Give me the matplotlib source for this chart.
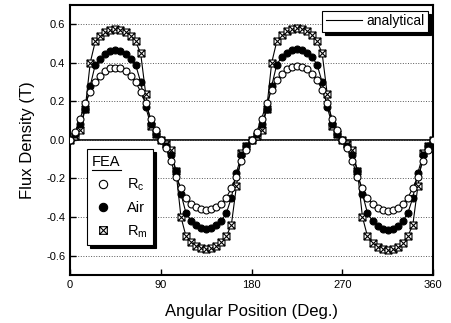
import numpy as np
import matplotlib
matplotlib.use("Agg")
import matplotlib.pyplot as plt
from matplotlib.lines import Line2D
from matplotlib.path import Path

plt.rcParams['font.family'] = ['Liberation Sans', 'DejaVu Sans']
plt.rcParams['mathtext.fontset'] = 'custom'
plt.rcParams['mathtext.rm'] = 'Liberation Sans'

# angular position (deg), sampled every 5 degrees
angle = np.arange(0, 361, 5)

# FEA, Rc case
b_rc = [0.00, 0.04, 0.11, 0.19, 0.25, 0.30, 0.33, 0.355, 0.37, 0.375, 0.37, 0.355, 0.33, 0.30, 0.25, 0.19, 0.11, 0.05, 0.00,
        -0.04, -0.11, -0.19, -0.25, -0.30, -0.33, -0.35, -0.36, -0.365, -0.36, -0.35, -0.33, -0.30, -0.25, -0.19, -0.11, -0.05, 0.00,
        0.04, 0.11, 0.19, 0.26, 0.31, 0.34, 0.365, 0.38, 0.385, 0.38, 0.365, 0.34, 0.31, 0.26, 0.19, 0.11, 0.05, 0.00,
        -0.04, -0.11, -0.19, -0.25, -0.30, -0.33, -0.355, -0.365, -0.37, -0.365, -0.355, -0.33, -0.30, -0.25, -0.19, -0.11, -0.05, 0.00]

# FEA, air case
b_air = [0.00, 0.03, 0.08, 0.16, 0.28, 0.39, 0.42, 0.445, 0.46, 0.465, 0.46, 0.445, 0.42, 0.39, 0.30, 0.17, 0.08, 0.03, 0.00,
         -0.03, -0.08, -0.16, -0.28, -0.38, -0.42, -0.44, -0.455, -0.46, -0.455, -0.44, -0.42, -0.38, -0.30, -0.17, -0.08, -0.03, 0.00,
         0.03, 0.08, 0.16, 0.28, 0.39, 0.43, 0.45, 0.465, 0.47, 0.465, 0.45, 0.43, 0.39, 0.30, 0.17, 0.08, 0.03, 0.00,
         -0.03, -0.08, -0.16, -0.28, -0.38, -0.42, -0.445, -0.46, -0.465, -0.46, -0.445, -0.42, -0.38, -0.30, -0.17, -0.08, -0.03, 0.00]

# FEA, Rm case
b_rm = [0.00, 0.02, 0.05, 0.16, 0.40, 0.51, 0.54, 0.56, 0.57, 0.575, 0.57, 0.56, 0.54, 0.51, 0.45, 0.24, 0.07, 0.03, 0.00,
        -0.02, -0.05, -0.16, -0.40, -0.50, -0.53, -0.55, -0.56, -0.565, -0.56, -0.55, -0.53, -0.50, -0.44, -0.24, -0.07, -0.03, 0.00,
        0.02, 0.05, 0.16, 0.40, 0.51, 0.545, 0.565, 0.575, 0.58, 0.575, 0.565, 0.545, 0.51, 0.45, 0.24, 0.07, 0.03, 0.00,
        -0.02, -0.05, -0.16, -0.40, -0.50, -0.535, -0.555, -0.565, -0.57, -0.565, -0.555, -0.535, -0.50, -0.44, -0.24, -0.07, -0.03, 0.00]

x_ticks = [0, 90, 180, 270, 360]
y_ticks = [-0.6, -0.4, -0.2, 0.0, 0.2, 0.4, 0.6]

# square with a cross inside
crossed_sq = Path([(-1, -1), (1, -1), (1, 1), (-1, 1), (-1, -1), (-1, -1), (1, 1), (-1, 1), (1, -1)],
                  [Path.MOVETO, Path.LINETO, Path.LINETO, Path.LINETO, Path.CLOSEPOLY,
                   Path.MOVETO, Path.LINETO, Path.MOVETO, Path.LINETO])

fig = plt.figure(figsize=(4.52, 3.23), dpi=100)
ax = fig.add_axes([0.155, 0.149, 0.803, 0.836])

ax.yaxis.grid(True, ls=':', color='0.35', lw=0.7)
ax.axhline(0, color='k', lw=1.2, zorder=1.5)

# analytical curves
for b in (b_rm, b_air, b_rc):
    ax.plot(angle, b, color='k', lw=0.8, zorder=2)

ax.plot(angle, b_rm, ls='none', marker=crossed_sq, ms=5, mfc='white', mec='k', mew=0.8, zorder=3)
ax.plot(angle, b_air, ls='none', marker='o', ms=5, mfc='k', mec='k', mew=0.8, zorder=4)
ax.plot(angle, b_rc, ls='none', marker='o', ms=5, mfc='white', mec='k', mew=0.8, zorder=5)

ax.set_xlim(0, 360)
ax.set_ylim(-0.7, 0.7)
ax.set_xticks(x_ticks)
ax.set_yticks(y_ticks)
ax.set_yticklabels(['%.1f' % v for v in y_ticks])
ax.tick_params(direction='in', length=4, width=1, labelsize=8)
for s in ax.spines.values():
    s.set_linewidth(1.5)

ax.set_xlabel('Angular Position (Deg.)', fontsize=12, labelpad=10)
ax.set_ylabel('Flux Density (T)', fontsize=12, labelpad=8)

shadow = {'color': 'k', 'alpha': 1}

leg1 = ax.legend([Line2D([], [], color='k', lw=0.8)], ['analytical'], loc='upper right',
                 bbox_to_anchor=(0.986, 0.978), borderaxespad=0, fancybox=False, edgecolor='k',
                 framealpha=1, shadow=shadow, fontsize=10, handlelength=2.6, handletextpad=0.3,
                 borderpad=0.25)
leg1.get_frame().set_linewidth(0.8)
ax.add_artist(leg1)

fea_handles = [
    Line2D([], [], ls='none', marker='o', ms=6, mfc='white', mec='k', mew=0.8),
    Line2D([], [], ls='none', marker='o', ms=6, mfc='k', mec='k', mew=0.8),
    Line2D([], [], ls='none', marker=crossed_sq, ms=5.5, mfc='white', mec='k', mew=0.8),
]
fea_labels = [r'R$_{\mathrm{c}}$', 'Air', r'R$_{\mathrm{m}}$']
leg2 = ax.legend(fea_handles, fea_labels, title='FEA', loc='lower left', bbox_to_anchor=(0.047, 0.11),
                 borderaxespad=0, fancybox=False, edgecolor='k', framealpha=1, shadow=shadow,
                 fontsize=10.5, title_fontsize=10.5, alignment='left', handlelength=1.5,
                 handletextpad=0.9, labelspacing=0.55, borderpad=0.35)
leg2.get_frame().set_linewidth(0.8)

# underline the FEA title
fig.canvas.draw()
bb = leg2.get_title().get_window_extent().transformed(fig.transFigure.inverted())
fig.add_artist(Line2D([bb.x0, bb.x1], [bb.y0 - 0.004, bb.y0 - 0.004], color='k', lw=0.8,
                      transform=fig.transFigure))

fig.savefig('out.png', dpi=100)
